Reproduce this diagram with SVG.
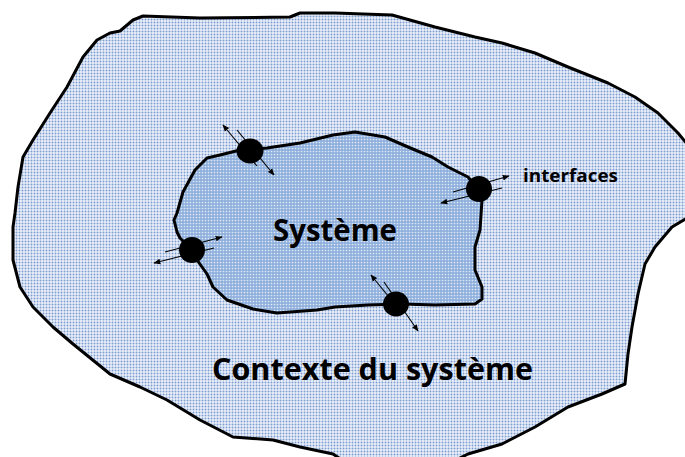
<svg xmlns="http://www.w3.org/2000/svg" width="685" height="457" viewBox="0 0 685 457">
  <defs>
    <!-- halftone fills for the two regions -->
    <pattern id="dotsLight" width="3" height="3" patternUnits="userSpaceOnUse">
      <rect width="3" height="3" fill="#ebf0f9"/>
      <circle cx="1.5" cy="1.5" r="0.95" fill="#7c9dd2"/>
    </pattern>
    <pattern id="dotsDense" width="3" height="3" patternUnits="userSpaceOnUse">
      <rect width="3" height="3" fill="#8fb0dc"/>
      <circle cx="1.5" cy="1.5" r="0.85" fill="#dfe8f5"/>
    </pattern>
    <marker id="head" viewBox="0 0 10 10" refX="9" refY="5" markerWidth="7" markerHeight="7" orient="auto" markerUnits="userSpaceOnUse">
      <path d="M0,1 L10,5 L0,9 Z" fill="#000"/>
    </marker>
  </defs>
  <style>
    .outline { stroke: #000; stroke-width: 3; stroke-linejoin: round; }
    .flow { stroke: #000; stroke-width: 1.1; fill: none; marker-end: url(#head); }
    .port { fill: #000; }
    .label { font-family: "Open Sans", "Liberation Sans", sans-serif; font-weight: bold; fill: #000; }
  </style>

  <rect width="685" height="457" fill="#fff"/>

  <!-- context region -->
  <g id="contexte">
    <path class="outline" fill="url(#dotsLight)" d="M133,20 L143,16 L200,18 L290,17 L300,13 L335,13 L392,15 L435,27 L475,37 L502,43 L535,53 L568,67 L608,83 L635,97 L658,113 L678,133 L692,150 L692,215 L672,227 L655,247 L645,264 L638,294 L632,327 L628,354 L625,384 L602,394 L568,407 L535,427 L502,444 L468,454 L452,462 L345,462 L333,454 L300,447 L273,440 L233,437 L200,420 L167,400 L140,387 L110,374 L73,344 L53,327 L33,307 L20,287 L13,260 L13,227 L15,213 L18,187 L23,157 L33,140 L50,113 L67,87 L83,57 L97,40 L110,33 L120,31 Z"/>
    <text class="label" x="212" y="380" font-size="31" textLength="321" lengthAdjust="spacingAndGlyphs">Contexte du système</text>
  </g>

  <!-- system region -->
  <g id="systeme">
    <path class="outline" fill="url(#dotsDense)" d="M177,232 L174,220 L177,213 L183,192 L195,170 L207,158 L220,155 L240,150 L267,148 L300,143 L333,135 L355,132 L385,137 L408,147 L432,157 L448,167 L468,177 L478,189 L482,200 L480,230 L475,247 L475,270 L482,287 L482,299 L475,304 L435,305 L402,304 L368,305 L335,307 L317,310 L277,313 L253,309 L227,300 L213,287 L207,274 L197,260 L192,250 L180,238 Z"/>
    <text class="label" x="273" y="241" font-size="31" textLength="124" lengthAdjust="spacingAndGlyphs">Système</text>
  </g>

  <!-- interface exchanges -->
  <g id="connecteurs">
    <line class="flow" x1="257" y1="166" x2="223" y2="125"/>
    <line class="flow" x1="237" y1="130" x2="274" y2="175"/>
    <line class="flow" x1="453" y1="192" x2="509" y2="176"/>
    <line class="flow" x1="502" y1="188" x2="441" y2="203"/>
    <line class="flow" x1="165" y1="252" x2="222" y2="237"/>
    <line class="flow" x1="214" y1="248" x2="154" y2="263"/>
    <line class="flow" x1="393" y1="302" x2="371" y2="275"/>
    <line class="flow" x1="384" y1="282" x2="418" y2="331"/>
  </g>

  <g id="interface-haut"><ellipse class="port" cx="250" cy="151" rx="13.5" ry="12.5"/></g>
  <g id="interface-droite">
    <ellipse class="port" cx="479" cy="189" rx="13" ry="13"/>
    <text class="label" x="523" y="182" font-size="17" textLength="95" lengthAdjust="spacingAndGlyphs">interfaces</text>
  </g>
  <g id="interface-gauche"><ellipse class="port" cx="192" cy="250" rx="13" ry="13"/></g>
  <g id="interface-bas"><ellipse class="port" cx="396" cy="304" rx="13" ry="12.5"/></g>
</svg>
